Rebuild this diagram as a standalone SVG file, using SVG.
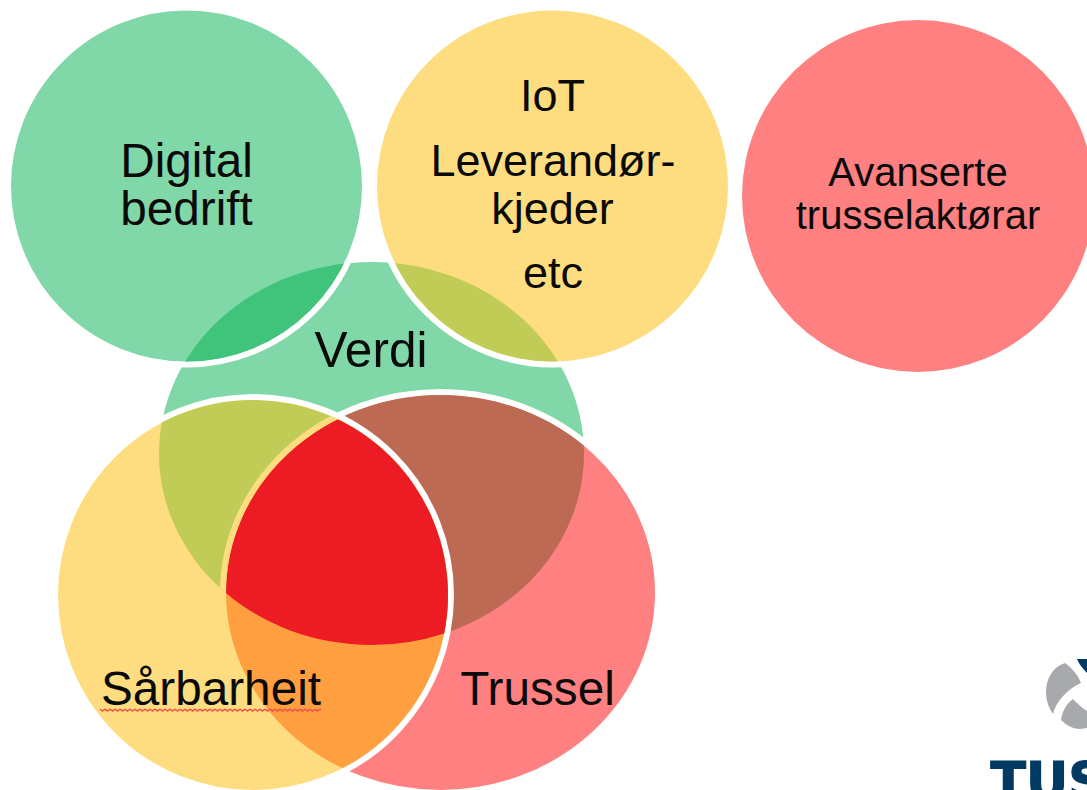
<svg xmlns="http://www.w3.org/2000/svg" width="1087" height="790" viewBox="0 0 1087 790">
<style>
text{font-family:"Liberation Sans",Arial,sans-serif;font-size:47.700px;fill:#0a0a0a;text-anchor:middle}
.w{stroke:#fff;stroke-width:6}
.g{fill:#80D8A8}.y{fill:#FEDD80}.r{fill:#FF8080}
.iot{font-size:45px}
.av{font-size:40px}
</style>
<defs>
<clipPath id="cS"><ellipse cx="253" cy="595" rx="195" ry="195"/></clipPath>
<clipPath id="cT"><ellipse cx="440.500" cy="592.500" rx="214.500" ry="197.500"/></clipPath>
<clipPath id="cVS" clip-path="url(#cS)"><ellipse cx="371.500" cy="453.500" rx="212.500" ry="191.500"/></clipPath>
<clipPath id="cG"><circle cx="186.500" cy="186" r="175.500"/></clipPath>
<clipPath id="cY"><circle cx="552.500" cy="186" r="175.500"/></clipPath>
<pattern id="sq" width="5" height="4" patternUnits="userSpaceOnUse" x="100" y="708"><path d="M0 1L2.500 3L5 1" fill="none" stroke="#F0504A" stroke-width="1.500"/></pattern>
</defs>

<g id="verdi"><ellipse class="g" cx="371.500" cy="453.500" rx="212.500" ry="191.500"/></g>
<g id="trussel">
<ellipse class="r w" cx="440.500" cy="592.500" rx="217.500" ry="200.500"/>
<ellipse fill="#BC6A54" cx="371.500" cy="453.500" rx="212.500" ry="191.500" clip-path="url(#cT)"/>
</g>
<g id="saarbarheit">
<ellipse class="y w" cx="253" cy="595" rx="198" ry="198"/>
<ellipse fill="#C0CC55" cx="371.500" cy="453.500" rx="212.500" ry="191.500" clip-path="url(#cS)"/>
<ellipse fill="#FF9F40" cx="440.500" cy="592.500" rx="214.500" ry="197.500" clip-path="url(#cS)"/>
</g>
<g id="kjerne">
<g clip-path="url(#cVS)">
<ellipse fill="#ED1C24" cx="440.500" cy="592.500" rx="214.500" ry="197.500"/>
<ellipse fill="none" stroke="#FEDD80" stroke-width="6" cx="440.500" cy="592.500" rx="217.500" ry="200.500"/>
</g>
</g>
<g id="digital-bedrift">
<circle class="g w" cx="186.500" cy="186" r="178.500"/>
<ellipse fill="#40C47C" cx="371.500" cy="453.500" rx="212.500" ry="191.500" clip-path="url(#cG)"/>
<text x="186.500" y="177">Digital</text>
<text x="186.500" y="225">bedrift</text>
</g>
<g id="iot">
<circle class="y w" cx="552.500" cy="186" r="178.500"/>
<ellipse fill="#C0CC55" cx="371.500" cy="453.500" rx="212.500" ry="191.500" clip-path="url(#cY)"/>
<text class="iot" x="552.500" y="111">IoT</text>
<text class="iot" x="553" y="176">Leverandør-</text>
<text class="iot" x="552.500" y="224">kjeder</text>
<text class="iot" x="553" y="288">etc</text>
</g>
<g id="avanserte">
<circle class="r" cx="918" cy="196" r="176"/>
<text class="av" x="918" y="186">Avanserte</text>
<text class="av" x="918" y="229">trusselaktørar</text>
</g>
<g id="labels">
<text x="371" y="367" style="font-size:49.500px">Verdi</text>
<text x="211" y="705">Sårbarheit</text>
<text x="537.500" y="705">Trussel</text>
<rect x="100" y="708" width="221" height="4" fill="url(#sq)"/>
</g>
<g id="logo">
<path fill="#A7A9AC" d="M1065 663C1052 667 1046 680 1046 692C1046 701 1049 708 1053 714C1056 702 1066 690 1081 683C1078 675 1072 668 1065 663Z"/>
<path fill="#A7A9AC" d="M1073 699C1066 704 1062 712 1061 720C1067 726 1074 729 1080 729L1087 728V711C1082 708 1077 703 1073 699Z"/>
<path fill="#003A63" d="M1077 659H1087V673C1083 669 1079 664 1077 659Z"/>
<text x="990.500" y="799" stroke="#003A63" stroke-width="1.200" style="font-family:'DejaVu Sans',sans-serif;font-weight:bold;font-size:52px;text-anchor:start;fill:#003A63">TUS</text>
</g>
</svg>
